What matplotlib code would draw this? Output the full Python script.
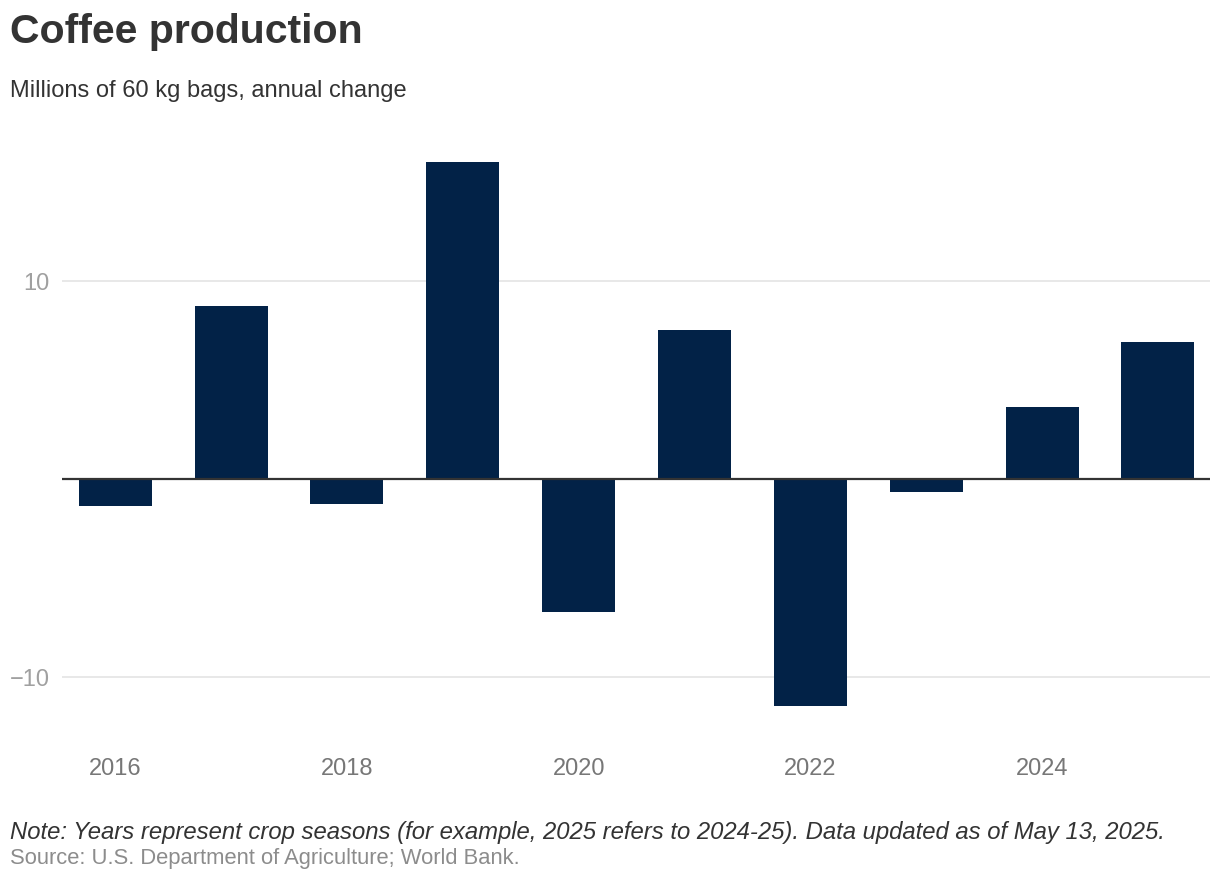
import matplotlib

matplotlib.use("Agg")
import matplotlib.pyplot as plt

plt.rcParams["font.family"] = ["Liberation Sans", "DejaVu Sans"]

# ---- Data (millions of 60 kg bags, annual change) ----
YEARS = [2016, 2017, 2018, 2019, 2020, 2021, 2022, 2023, 2024, 2025]
CHANGE = [-1.36, 8.74, -1.26, 16.0, -6.72, 7.53, -11.46, -0.66, 3.64, 6.92]
Y_TICKS = [-10, 10]
Y_TICK_LABELS = ["\u221210", "10"]
X_TICKS = [2016, 2018, 2020, 2022, 2024]

BAR_COLOR = "#022247"

W, H = 1220, 888
fig = plt.figure(figsize=(W / 100, H / 100), dpi=100)

# axes placed in pixel coords: x 62..1210, y 140..730
ax = fig.add_axes([62 / W, 1 - 730 / H, 1148 / W, 590 / H])
ax.bar(YEARS, CHANGE, width=0.63, color=BAR_COLOR, zorder=3)
ax.axhline(0, color="#333333", lw=1.6, zorder=4)

ax.set_xlim(2015.54, 2025.45)
ax.set_ylim(-(730 - 479) / 19.8, (479 - 140) / 19.8)
ax.set_yticks(Y_TICKS)
ax.set_yticklabels(Y_TICK_LABELS)
ax.set_xticks(X_TICKS)
ax.set_xticklabels([str(y) for y in X_TICKS])
ax.grid(axis="y", color="#e6e6e6", lw=1.3, zorder=0)
ax.tick_params(axis="y", length=0, pad=9, labelsize=17, labelcolor="#a0a0a0")
ax.tick_params(axis="x", length=0, pad=20, labelsize=17, labelcolor="#777777")
for s in ax.spines.values():
    s.set_visible(False)

# ---- Titles and notes ----
fig.text(10 / W, 1 - 43 / H, "Coffee production", fontsize=29.5, fontweight="bold",
         color="#333333", va="baseline", ha="left")
fig.text(10 / W, 1 - 97 / H, "Millions of 60 kg bags, annual change", fontsize=17,
         color="#333333", va="baseline", ha="left")
fig.text(10 / W, 1 - 839 / H,
         "Note: Years represent crop seasons (for example, 2025 refers to 2024-25). "
         "Data updated as of May 13, 2025.",
         fontsize=17.2, style="italic", color="#333333", va="baseline", ha="left")
fig.text(10 / W, 1 - 864 / H, "Source: U.S. Department of Agriculture; World Bank.",
         fontsize=15.8, color="#8c8c8c", va="baseline", ha="left")

fig.savefig("out.png", dpi=100)
